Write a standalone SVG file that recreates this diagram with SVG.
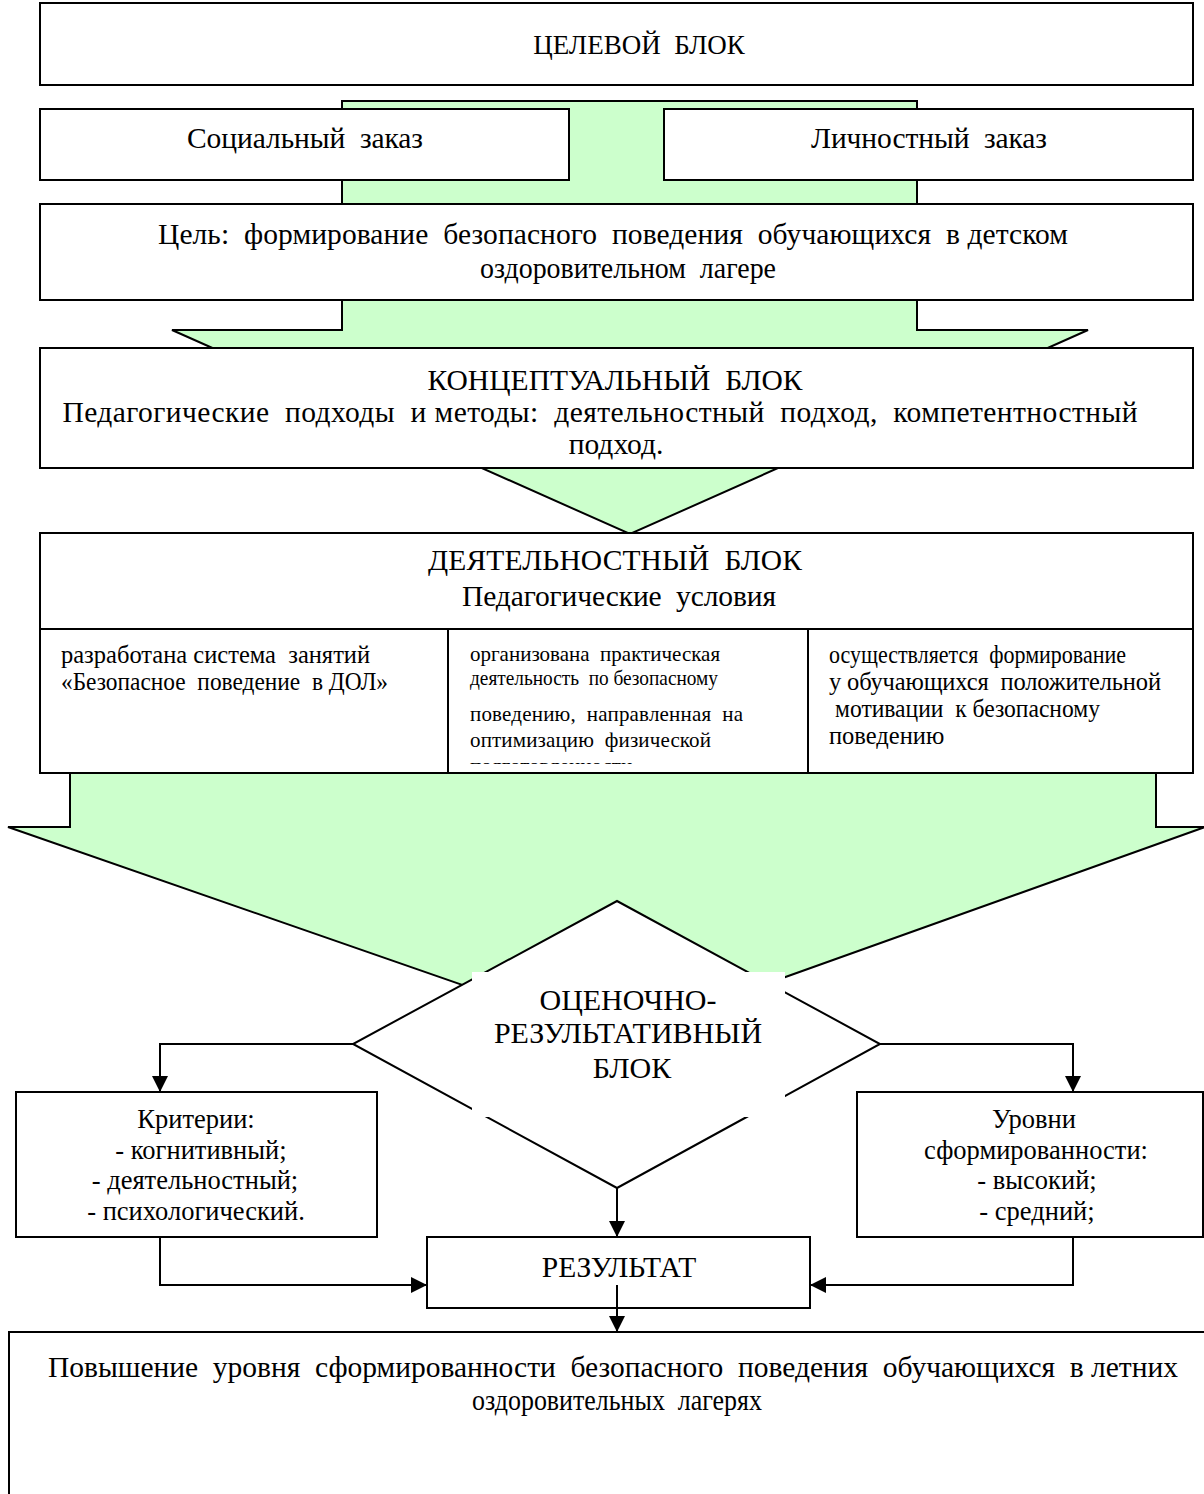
<svg xmlns="http://www.w3.org/2000/svg" width="1204" height="1494" viewBox="0 0 1204 1494">
<style>
.box{fill:#fff;stroke:#000;stroke-width:2}
.big{fill:#ccffcc;stroke:#000;stroke-width:2}
.ln{fill:none;stroke:#000;stroke-width:2}
text{font-family:"Liberation Serif","Times New Roman",serif;fill:#000;white-space:pre}
.t29{font-size:29.5px;text-anchor:middle}
.t27{font-size:27px;text-anchor:middle}
.t30{font-size:30px;text-anchor:middle}
.t26{font-size:26.5px;text-anchor:middle}
.t24{font-size:24.5px}
.t21{font-size:21px}
</style>
<defs>
<marker id="ah" viewBox="0 0 16 16" refX="16" refY="8" markerWidth="16" markerHeight="16" markerUnits="userSpaceOnUse" orient="auto">
<path d="M0,0 L16,8 L0,16 z" fill="#000"/>
</marker>
<clipPath id="c2"><rect x="449" y="629" width="358" height="135"/></clipPath>
</defs>
<g id="flow-arrows">
<polygon class="big" points="342,101 917,101 917,330 1088,330 630,534 172,330 342,330"/>
<polygon class="big" points="70,773 1156,773 1156,827 1205,827 615,1038 8,827 70,827"/>
</g>
<g id="target-block">
<rect class="box" x="40" y="3" width="1153" height="82"/>
<text class="t27" x="639" y="54" xml:space="preserve">ЦЕЛЕВОЙ  БЛОК</text>
</g>
<g id="social-order">
<rect class="box" x="40" y="109" width="529" height="71"/>
<text class="t29" x="305" y="148" xml:space="preserve" textLength="236" lengthAdjust="spacing">Социальный  заказ</text>
</g>
<g id="personal-order">
<rect class="box" x="664" y="109" width="529" height="71"/>
<text class="t29" x="929" y="148" xml:space="preserve" textLength="236" lengthAdjust="spacing">Личностный  заказ</text>
</g>
<g id="goal">
<rect class="box" x="40" y="204" width="1153" height="96"/>
<text class="t29" x="613" y="244" xml:space="preserve" textLength="910" lengthAdjust="spacing">Цель:  формирование  безопасного  поведения  обучающихся  в детском</text>
<text class="t29" x="628" y="278" xml:space="preserve" textLength="296" lengthAdjust="spacingAndGlyphs">оздоровительном  лагере</text>
</g>
<g id="conceptual-block">
<rect class="box" x="40" y="348" width="1153" height="120"/>
<text class="t29" x="615" y="390" xml:space="preserve" textLength="375" lengthAdjust="spacing">КОНЦЕПТУАЛЬНЫЙ  БЛОК</text>
<text class="t29" x="600" y="422" xml:space="preserve" textLength="1075" lengthAdjust="spacing">Педагогические  подходы  и методы:  деятельностный  подход,  компетентностный</text>
<text class="t29" x="616" y="454">подход.</text>
</g>
<g id="activity-block">
<rect class="box" x="40" y="533" width="1153" height="240"/>
<path class="ln" d="M40,629 H1193 M448,629 V773 M808,629 V773"/>
<text class="t29" x="615" y="570" xml:space="preserve" textLength="374" lengthAdjust="spacing">ДЕЯТЕЛЬНОСТНЫЙ  БЛОК</text>
<text class="t29" x="619" y="606" xml:space="preserve" textLength="314" lengthAdjust="spacing">Педагогические  условия</text>
<text class="t24" x="61" y="663" xml:space="preserve">разработана система  занятий</text>
<text class="t24" x="61" y="690" xml:space="preserve" textLength="327" lengthAdjust="spacingAndGlyphs">«Безопасное  поведение  в ДОЛ»</text>
<g clip-path="url(#c2)">
<text class="t21" x="470" y="661" xml:space="preserve">организована  практическая</text>
<text class="t21" x="470" y="685" xml:space="preserve" textLength="248" lengthAdjust="spacingAndGlyphs">деятельность  по безопасному</text>
<text class="t21" x="470" y="721" xml:space="preserve" textLength="273" lengthAdjust="spacing">поведению,  направленная  на</text>
<text class="t21" x="470" y="747" xml:space="preserve" textLength="241" lengthAdjust="spacing">оптимизацию  физической</text>
<text class="t21" x="470" y="773">подготовленности</text>
</g>
<text class="t24" x="829" y="663" xml:space="preserve" textLength="297" lengthAdjust="spacingAndGlyphs">осуществляется  формирование</text>
<text class="t24" x="829" y="690" xml:space="preserve" textLength="332" lengthAdjust="spacing">у обучающихся  положительной</text>
<text class="t24" x="835" y="717" xml:space="preserve" textLength="265" lengthAdjust="spacingAndGlyphs">мотивации  к безопасному</text>
<text class="t24" x="829" y="744">поведению</text>
</g>
<g id="evaluation-block">
<polygon class="box" points="617,901 880,1044 617,1188 353,1044"/>
<rect x="472" y="972" width="313" height="145" fill="#fff"/>
<text class="t30" x="628" y="1010">ОЦЕНОЧНО-</text>
<text class="t30" x="628" y="1043">РЕЗУЛЬТАТИВНЫЙ</text>
<text class="t30" x="632" y="1078">БЛОК</text>
</g>
<g id="criteria">
<rect class="box" x="16" y="1092" width="361" height="145"/>
<text class="t26" x="196" y="1128">Критерии:</text>
<text class="t26" x="201" y="1159">- когнитивный;</text>
<text class="t26" x="195" y="1189">- деятельностный;</text>
<text class="t26" x="196" y="1220">- психологический.</text>
</g>
<g id="levels">
<rect class="box" x="857" y="1092" width="346" height="145"/>
<text class="t26" x="1034" y="1128">Уровни</text>
<text class="t26" x="1036" y="1159">сформированности:</text>
<text class="t26" x="1037" y="1189">- высокий;</text>
<text class="t26" x="1037" y="1220">- средний;</text>
</g>
<g id="result">
<rect class="box" x="427" y="1237" width="383" height="71"/>
<text class="t29" x="619" y="1277">РЕЗУЛЬТАТ</text>
</g>
<g id="outcome">
<rect class="box" x="9" y="1332" width="1206" height="180"/>
<text class="t29" x="613" y="1377" xml:space="preserve" textLength="1130" lengthAdjust="spacing">Повышение  уровня  сформированности  безопасного  поведения  обучающихся  в летних</text>
<text class="t29" x="617" y="1410" xml:space="preserve" textLength="290" lengthAdjust="spacingAndGlyphs">оздоровительных  лагерях</text>
</g>
<g id="connectors">
<path class="ln" d="M353,1044 H160 V1092" marker-end="url(#ah)"/>
<path class="ln" d="M880,1044 H1073 V1092" marker-end="url(#ah)"/>
<path class="ln" d="M160,1237 V1285 H427" marker-end="url(#ah)"/>
<path class="ln" d="M1073,1237 V1285 H810" marker-end="url(#ah)"/>
<path class="ln" d="M617,1188 V1237" marker-end="url(#ah)"/>
<path class="ln" d="M617,1285 V1332" marker-end="url(#ah)"/>
</g>
</svg>
